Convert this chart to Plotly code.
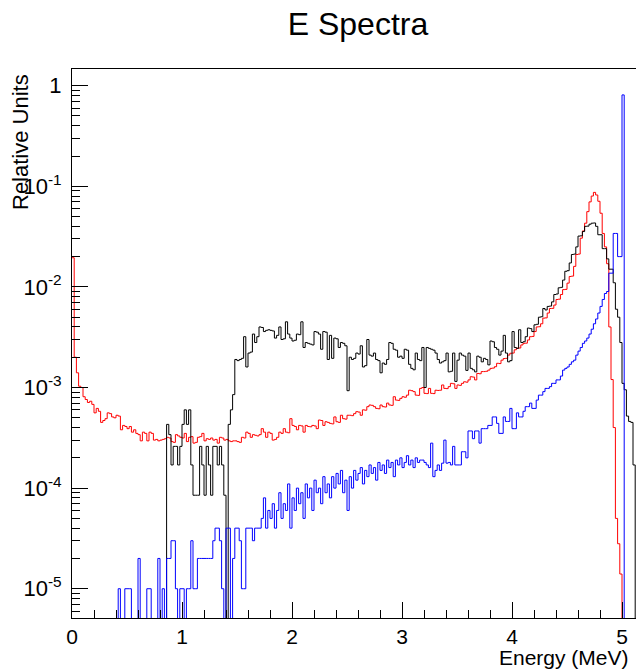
import numpy as np
import plotly.graph_objects as go

# ---------------- data (bin contents, 260 bins of 0.02 MeV from 0 to 5.2 MeV) ----------------
E_MIN, E_MAX, N_BINS = 0.0, 5.2, 260

red_values = [
    0.0195, 2.0e-3, 1.4e-3, 1.03e-3, 1.0e-3, 8.1e-4, 7.6e-4, 7.1e-4, 7.3e-4, 6.8e-4,
    5.6e-4, 6.2e-4, 5.8e-4, 4.5e-4, 4.7e-4, 4.9e-4, 5.6e-4, 5.5e-4, 5.1e-4, 5.0e-4,
    5.3e-4, 5.2e-4, 3.8e-4, 4.2e-4, 4.1e-4, 3.9e-4, 4.1e-4, 3.6e-4, 3.8e-4, 3.5e-4,
    3.4e-4, 2.95e-4, 3.6e-4, 3.5e-4, 2.95e-4, 3.6e-4, 3.5e-4, 3.0e-4, 3.05e-4, 2.95e-4,
    3.0e-4, 3.05e-4, 3.1e-4, 3.2e-4, 3.15e-4, 2.9e-4, 2.85e-4, 3.4e-4, 3.3e-4, 3.2e-4,
    3.15e-4, 3.5e-4, 2.9e-4, 3.2e-4, 3.25e-4, 2.8e-4, 2.85e-4, 3.2e-4, 3.25e-4, 3.5e-4,
    2.95e-4, 3.1e-4, 3.05e-4, 3.15e-4, 3.0e-4, 3.05e-4, 2.8e-4, 3.2e-4, 3.15e-4, 3.0e-4,
    3.05e-4, 2.95e-4, 2.9e-4, 2.95e-4, 2.95e-4, 2.9e-4, 2.85e-4, 3.2e-4, 3.15e-4, 3.6e-4,
    3.5e-4, 3.2e-4, 3.4e-4, 3.35e-4, 3.3e-4, 3.4e-4, 3.9e-4, 3.6e-4, 3.2e-4, 3.6e-4,
    3.5e-4, 3.0e-4, 3.05e-4, 3.2e-4, 3.6e-4, 3.5e-4, 3.9e-4, 3.6e-4, 3.55e-4, 4.9e-4,
    4.2e-4, 4.1e-4, 3.8e-4, 4.2e-4, 4.15e-4, 3.6e-4, 4.2e-4, 4.1e-4, 4.07e-4, 4.2e-4,
    4.15e-4, 3.9e-4, 4.75e-4, 4.7e-4, 4.2e-4, 4.57e-4, 4.5e-4, 4.4e-4, 4.35e-4, 5.1e-4,
    4.57e-4, 4.5e-4, 5.3e-4, 4.9e-4, 4.85e-4, 5.3e-4, 5.3e-4, 5.25e-4, 5.5e-4, 5.75e-4,
    5.7e-4, 5.3e-4, 6.0e-4, 5.95e-4, 6.45e-4, 6.7e-4, 6.65e-4, 6.45e-4, 6.2e-4, 6.15e-4,
    6.7e-4, 6.45e-4, 6.4e-4, 7.0e-4, 6.7e-4, 6.65e-4, 8.1e-4, 7.5e-4, 7.45e-4, 7.8e-4,
    8.1e-4, 8.0e-4, 8.4e-4, 9.4e-4, 9.3e-4, 9.1e-4, 8.4e-4, 8.35e-4, 9.8e-4, 1.0e-3,
    8.75e-4, 8.7e-4, 9.8e-4, 8.75e-4, 8.7e-4, 9.4e-4, 9.35e-4, 9.4e-4, 1.06e-3, 9.8e-4,
    9.75e-4, 1.02e-3, 1.1e-3, 1.09e-3, 9.8e-4, 1.06e-3, 1.05e-3, 1.1e-3, 1.14e-3, 1.13e-3,
    1.19e-3, 1.28e-3, 1.27e-3, 1.19e-3, 1.38e-3, 1.37e-3, 1.44e-3, 1.44e-3, 1.45e-3, 1.49e-3,
    1.55e-3, 1.56e-3, 1.61e-3, 1.74e-3, 1.73e-3, 1.87e-3, 1.94e-3, 1.95e-3, 2.1e-3, 2.19e-3,
    2.2e-3, 2.37e-3, 2.46e-3, 2.47e-3, 2.65e-3, 2.75e-3, 2.76e-3, 2.97e-3, 3.2e-3, 3.22e-3,
    3.6e-3, 4.0e-3, 4.02e-3, 4.3e-3, 4.9e-3, 4.92e-3, 5.5e-3, 6.1e-3, 6.12e-3, 6.6e-3,
    7.5e-3, 7.55e-3, 8.4e-3, 9.4e-3, 9.45e-3, 1.09e-2, 1.27e-2, 1.28e-2, 1.6e-2, 2.1e-2,
    2.12e-2, 3.05e-2, 3.6e-2, 4.3e-2, 5.6e-2, 7.0e-2, 8.0e-2, 8.7e-2, 8.2e-2, 7.1e-2,
    5.4e-2, 3.4e-2, 2.5e-2, 1.7e-2, 4.0e-3, 1.2e-3, 4.0e-4, 5.0e-5, 2.8e-5, 1.4e-5,
    0, 0, 0, 0, 0, 0, 0, 0, 0, 0,
]

black_values = [0] * 43 + [
    4.3e-4, 3.4e-4, 1.7e-4, 2.6e-4, 2.6e-4, 1.7e-4, 2.6e-4,
    4.3e-4, 6.0e-4, 4.3e-4, 6.0e-4, 1.7e-4, 8.5e-5, 8.5e-5, 8.5e-5, 2.6e-4, 1.7e-4,
    8.5e-5, 2.6e-4, 1.7e-4, 8.5e-5, 2.6e-4, 2.6e-4, 1.7e-4, 2.6e-4, 1.7e-4, 8.5e-5,
    0, 4.3e-4, 6.0e-4, 8.5e-4, 1.9e-3, 1.85e-3, 1.9e-3, 1.95e-3, 3.2e-3, 1.6e-3,
    2.2e-3, 2.25e-3, 3.4e-3, 2.8e-3, 3.2e-3, 4.0e-3, 3.95e-3, 3.6e-3, 3.7e-3, 3.75e-3,
    3.7e-3, 3.65e-3, 3.1e-3, 3.3e-3, 4.0e-3, 3.0e-3, 3.05e-3, 4.5e-3, 3.4e-3, 3.1e-3,
    2.9e-3, 2.95e-3, 3.4e-3, 3.35e-3, 4.5e-3, 2.5e-3, 2.8e-3, 2.75e-3, 2.7e-3, 2.65e-3,
    3.6e-3, 3.55e-3, 3.4e-3, 2.4e-3, 3.6e-3, 3.55e-3, 1.9e-3, 3.3e-3, 1.95e-3, 3.1e-3,
    3.05e-3, 2.5e-3, 2.8e-3, 2.75e-3, 2.6e-3, 9.3e-4, 2.0e-3, 1.9e-3, 1.95e-3, 2.2e-3,
    2.15e-3, 2.6e-3, 1.6e-3, 1.65e-3, 3.0e-3, 2.1e-3, 2.05e-3, 2.2e-3, 1.9e-3, 1.85e-3,
    1.4e-3, 1.75e-3, 1.7e-3, 1.9e-3, 2.8e-3, 2.75e-3, 2.4e-3, 2.35e-3, 2.0e-3, 2.05e-3,
    1.95e-3, 2.4e-3, 2.35e-3, 1.7e-3, 1.55e-3, 1.5e-3, 2.2e-3, 1.9e-3, 1.85e-3, 2.5e-3,
    1.0e-3, 2.5e-3, 2.45e-3, 2.4e-3, 2.35e-3, 2.2e-3, 1.9e-3, 1.75e-3, 1.8e-3, 1.85e-3,
    2.2e-3, 1.43e-3, 1.45e-3, 2.2e-3, 1.15e-3, 1.87e-3, 2.2e-3, 2.1e-3, 2.05e-3, 1.48e-3,
    2.2e-3, 1.55e-3, 1.5e-3, 1.43e-3, 2.05e-3, 2.0e-3, 1.8e-3, 1.95e-3, 1.9e-3, 1.68e-3,
    2.9e-3, 2.85e-3, 2.5e-3, 2.4e-3, 2.1e-3, 2.3e-3, 3.3e-3, 2.2e-3, 1.8e-3, 1.85e-3,
    3.6e-3, 2.5e-3, 2.45e-3, 3.75e-3, 2.8e-3, 2.85e-3, 3.2e-3, 3.9e-3, 3.85e-3, 3.6e-3,
    4.2e-3, 4.25e-3, 5.0e-3, 5.05e-3, 6.1e-3, 5.9e-3, 6.4e-3, 6.45e-3, 7.1e-3, 8.4e-3,
    8.5e-3, 9.8e-3, 9.9e-3, 1.17e-2, 1.43e-2, 1.45e-2, 1.73e-2, 2.1e-2, 2.12e-2, 2.5e-2,
    3.2e-2, 3.22e-2, 3.55e-2, 4.0e-2, 4.02e-2, 4.2e-2, 4.3e-2, 4.32e-2, 4.0e-2, 3.3e-2,
    3.3e-2, 2.4e-2, 2.4e-2, 1.9e-2, 1.5e-2, 1.5e-2, 1.1e-2, 6.0e-3, 5.0e-3, 2.8e-3,
    1.1e-3, 9.5e-4, 5.2e-4, 4.6e-4, 4.5e-4, 1.7e-4, 0, 0, 0, 0,
]

blue_values = [0] * 21 + [
    1e-5, 0, 0, 1e-5, 1e-5, 1e-5, 0, 0, 0,
    2e-5, 0, 0, 0, 1e-5, 1e-5, 0, 0, 0, 2e-5,
    0, 1e-5, 0, 2e-5, 2e-5, 3e-5, 3e-5, 1e-5, 0, 1e-5,
    1e-5, 0, 1e-5, 1e-5, 3e-5, 1e-5, 1e-5, 2e-5, 2e-5, 2e-5,
    2e-5, 2e-5, 2e-5, 2e-5, 3e-5, 4e-5, 4e-5, 3e-5, 1e-5, 0,
    4e-5, 4e-5, 0, 2e-5, 4e-5, 4e-5, 3e-5, 1e-5, 1e-5, 4e-5,
    4e-5, 4e-5, 3e-5, 4e-5, 4e-5, 4e-5, 5e-5, 8e-5, 4e-5, 6e-5,
    5e-5, 7e-5, 4e-5, 6e-5, 9e-5, 5e-5, 7e-5, 6e-5, 1.1e-4, 4e-5,
    8e-5, 6e-5, 1.0e-4, 7e-5, 9e-5, 5e-5, 1.1e-4, 8e-5, 1.0e-4, 6e-5,
    1.2e-4, 9e-5, 1.0e-4, 7e-5, 1.3e-4, 9e-5, 1.1e-4, 8e-5, 1.3e-4, 1.0e-4,
    1.4e-4, 1.1e-4, 1.5e-4, 9e-5, 1.2e-4, 6e-5, 1.3e-4, 1.0e-4, 1.5e-4, 1.2e-4,
    1.4e-4, 1.6e-4, 1.1e-4, 1.5e-4, 1.3e-4, 1.7e-4, 1.4e-4, 1.6e-4, 1.2e-4, 1.8e-4,
    1.5e-4, 1.7e-4, 1.4e-4, 1.9e-4, 1.6e-4, 1.8e-4, 1.3e-4, 1.9e-4, 1.7e-4, 2.0e-4,
    1.6e-4, 1.8e-4, 2.1e-4, 1.7e-4, 1.9e-4, 1.6e-4, 2.0e-4, 1.8e-4, 1.9e-4, 1.9e-4,
    1.8e-4, 1.7e-4, 1.6e-4, 2.8e-4, 1.3e-4, 1.5e-4, 1.7e-4, 1.5e-4, 1.77e-4, 3.0e-4,
    1.77e-4, 1.8e-4, 1.7e-4, 2.6e-4, 1.7e-4, 1.7e-4, 1.7e-4, 2.3e-4, 2.3e-4, 2.0e-4,
    3.7e-4, 3.7e-4, 3.1e-4, 3.7e-4, 3.7e-4, 2.8e-4, 3.9e-4, 3.9e-4, 3.9e-4, 4.2e-4,
    4.2e-4, 5.1e-4, 5.1e-4, 4.4e-4, 3.5e-4, 3.5e-4, 5.1e-4, 4.6e-4, 4.6e-4, 6.2e-4,
    3.9e-4, 3.9e-4, 5.6e-4, 5.1e-4, 5.1e-4, 5.8e-4, 6.45e-4, 6.45e-4, 7.0e-4, 6.2e-4,
    6.2e-4, 7.5e-4, 8.4e-4, 8.4e-4, 9.1e-4, 9.8e-4, 9.8e-4, 1.02e-3, 1.1e-3, 1.1e-3,
    1.19e-3, 1.19e-3, 1.3e-3, 1.49e-3, 1.55e-3, 1.6e-3, 1.7e-3, 1.8e-3, 1.87e-3, 2.1e-3,
    2.3e-3, 2.5e-3, 2.75e-3, 2.9e-3, 3.1e-3, 3.4e-3, 3.8e-3, 4.3e-3, 4.8e-3, 5.5e-3,
    6.4e-3, 7.5e-3, 8.6e-3, 9.0e-3, 1.37e-2, 1.37e-2, 3.4e-2, 3.4e-2, 2.0e-2, 2.0e-2,
    0.81, 0, 0, 0, 0, 0, 0, 0, 0, 0,
]

series_names = ["red", "black", "blue"]
series_colors = ["#ff0000", "#000000", "#0000ff"]

y_tick_values = [1e-5, 1e-4, 1e-3, 1e-2, 1e-1, 1]
y_tick_labels = ["10<sup>-5</sup>", "10<sup>-4</sup>", "10<sup>-3</sup>",
                 "10<sup>-2</sup>", "10<sup>-1</sup>", "1"]
x_tick_values = [0, 1, 2, 3, 4, 5]

# ---------------- figure ----------------
edges = np.linspace(E_MIN, E_MAX, N_BINS + 1)
FLOOR = 1e-12  # empty bins drawn below the frame (as ROOT does on log scale)


def steps(vals):
    v = np.asarray(vals, dtype=float)
    v = np.where(v > 0, v, FLOOR)
    return edges, np.append(v, v[-1])


fig = go.Figure()
for name, vals, col in zip(series_names, [red_values, black_values, blue_values], series_colors):
    xs, ys = steps(vals)
    fig.add_trace(go.Scatter(x=xs, y=ys, mode="lines", name=name,
                             line=dict(color=col, width=1, shape="hv"),
                             showlegend=False, hoverinfo="skip"))

# the page body has an 8 px margin, so the figure is drawn 8 px in from the window corner
OFF = 8
W, H = 644 - OFF, 671 - OFF
L, R, T, B = 72 - OFF, 0, 69 - OFF, 671 - 618
font_family = "Liberation Sans, Arial, sans-serif"

minor_y = [k * 10.0 ** n for n in range(-6, 1) for k in range(2, 10)]

fig.update_layout(
    width=W, height=H,
    margin=dict(l=L, r=R, t=T, b=B, pad=0, autoexpand=False),
    paper_bgcolor="white", plot_bgcolor="white",
    font=dict(family=font_family, color="black", size=20),
    title=dict(text="E Spectra", x=(358 - OFF) / W, xanchor="center", xref="container",
               y=1 - (24 - OFF) / H, yanchor="middle", yref="container", automargin=False,
               font=dict(size=32, family=font_family, color="black")),
)

fig.update_xaxes(
    range=[0, (W - L - R) / 110.0], showgrid=False, zeroline=False, automargin=False,
    showline=True, linecolor="black", linewidth=1, mirror=True,
    ticks="inside", ticklen=16, tickwidth=1, tickcolor="black",
    tickmode="array", tickvals=x_tick_values, ticktext=[str(v) for v in x_tick_values],
    tickfont=dict(size=21, family=font_family, color="black"),
    minor=dict(ticks="inside", ticklen=8, tickwidth=1, tickcolor="black", dtick=0.2, tick0=0),
)
fig.update_yaxes(
    type="log", range=[-5.291, 0.166], showgrid=False, zeroline=False, automargin=False,
    showline=True, linecolor="black", linewidth=1, mirror=True,
    ticks="inside", ticklen=16, tickwidth=1, tickcolor="black",
    tickmode="array", tickvals=y_tick_values, ticktext=y_tick_labels,
    tickfont=dict(size=22, family=font_family, color="black"),
    ticklabelstandoff=5,
    minor=dict(ticks="inside", ticklen=8, tickwidth=1, tickcolor="black",
               tickmode="array", tickvals=minor_y),
)

PW, PH = W - L - R, H - T - B
fig.add_annotation(text="Energy (MeV)", xref="paper", yref="paper",
                   x=(631 - OFF - L) / PW, y=-(657 - OFF - (H - B)) / PH,
                   xanchor="right", yanchor="middle", showarrow=False,
                   font=dict(size=21, family=font_family, color="black"))
fig.add_annotation(text="Relative Units", xref="paper", yref="paper",
                   x=-(L - (20 - OFF)) / PW, y=1 - 3 / PH, textangle=-90,
                   xanchor="center", yanchor="top", showarrow=False,
                   font=dict(size=22, family=font_family, color="black"))

fig.write_html("out.html")
